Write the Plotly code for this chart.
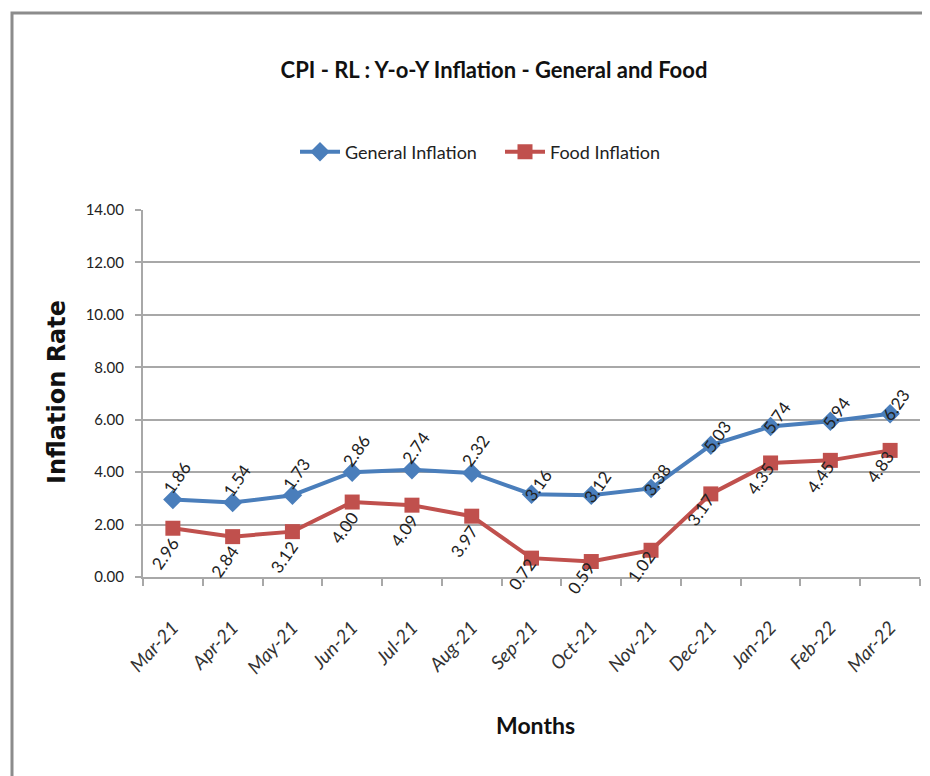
import plotly.graph_objects as go

months = ["Mar-21", "Apr-21", "May-21", "Jun-21", "Jul-21", "Aug-21", "Sep-21",
          "Oct-21", "Nov-21", "Dec-21", "Jan-22", "Feb-22", "Mar-22"]
general = [2.96, 2.84, 3.12, 4.00, 4.09, 3.97, 3.16, 3.12, 3.38, 5.03, 5.74, 5.94, 6.23]
food = [1.86, 1.54, 1.73, 2.86, 2.74, 2.32, 0.72, 0.59, 1.02, 3.17, 4.35, 4.45, 4.83]
# data labels exactly as printed in the source chart (first six are swapped there)
general_labels = ["1.86", "1.54", "1.73", "2.86", "2.74", "2.32", "3.16", "3.12", "3.38",
                  "5.03", "5.74", "5.94", "6.23"]
food_labels = ["2.96", "2.84", "3.12", "4.00", "4.09", "3.97", "0.72", "0.59", "1.02",
               "3.17", "4.35", "4.45", "4.83"]
y_ticks = [0, 2, 4, 6, 8, 10, 12, 14]

NARROW = "Lato, Roboto, sans-serif"
BLUE = "#4A7EBB"
RED = "#C0504D"
GRID = "#A8A8A8"

# page body has an 8px margin, so the figure is laid out 8px smaller
W, H = 922, 768
L, R, T, B = 135, 10, 202, 199
pw, ph = W - L - R, H - T - B


def px(x):
    return (x - 8 - L) / pw


def py(y):
    return (H - B - (y - 8)) / ph


fig = go.Figure()
fig.add_trace(go.Scatter(x=months, y=general, mode="lines+markers", name="General Inflation",
                         line=dict(color=BLUE, width=4),
                         marker=dict(symbol="diamond", size=15, color=BLUE)))
fig.add_trace(go.Scatter(x=months, y=food, mode="lines+markers", name="Food Inflation",
                         line=dict(color=RED, width=4),
                         marker=dict(symbol="square", size=15, color=RED)))

annotations = []
for i, m in enumerate(months):
    far = i < 6
    annotations.append(dict(x=m, y=general[i], text=general_labels[i], showarrow=False,
                            textangle=-55, xshift=4 if far else 6, yshift=22 if far else 9,
                            font=dict(family=NARROW, size=17, color="#222")))
    annotations.append(dict(x=m, y=food[i], text=food_labels[i], showarrow=False,
                            textangle=-55, xshift=-8 if far else -10, yshift=-25 if far else -16,
                            font=dict(family=NARROW, size=17, color="#222")))

annotations.append(dict(xref="paper", yref="paper", x=px(535), y=py(725), showarrow=False,
                        text="<b>Months</b>", xanchor="center", yanchor="middle",
                        font=dict(family=NARROW, size=23, color="#111")))
annotations.append(dict(xref="paper", yref="paper", x=px(57), y=py(392), showarrow=False,
                        text="<b>Inflation Rate</b>", textangle=-90, xanchor="center", yanchor="middle",
                        font=dict(family="DejaVu Sans, sans-serif", size=24, color="#111")))

fig.update_layout(
    width=W, height=H,
    margin=dict(l=L, r=R, t=T, b=B),
    paper_bgcolor="white", plot_bgcolor="white",
    title=dict(text="<b>CPI - RL : Y-o-Y Inflation - General and Food</b>",
               x=px(494), xref="paper", xanchor="center",
               y=1 - 62 / H, yref="container", yanchor="middle",
               font=dict(family=NARROW, size=22, color="#111")),
    legend=dict(orientation="h", x=px(500), xanchor="center", y=py(152), yanchor="middle",
                font=dict(family=NARROW, size=18, color="#222"), itemwidth=40,
                entrywidth=150, bgcolor="rgba(0,0,0,0)"),
    showlegend=True,
    annotations=annotations,
    shapes=[dict(type="rect", xref="paper", yref="paper",
                 x0=px(12), x1=1.3, y0=-0.7, y1=py(13),
                 line=dict(color="#8C8C8C", width=3), fillcolor="rgba(0,0,0,0)", layer="below")],
)

fig.update_xaxes(type="category", range=[-0.5, len(months) - 0.5], tickangle=-47,
                 tickson="boundaries",
                 ticks="outside", ticklen=7, tickcolor=GRID, tickwidth=2, ticklabelstandoff=30,
                 showline=True, linecolor=GRID, linewidth=2, showgrid=False,
                 tickfont=dict(family=NARROW, size=19, color="#333", style="italic"))
fig.update_yaxes(range=[0, 14], tickvals=y_ticks, tickformat=".2f",
                 ticks="outside", ticklen=6, tickcolor=GRID, tickwidth=2, ticklabelstandoff=8,
                 showline=True, linecolor=GRID, linewidth=2,
                 showgrid=True, gridcolor=GRID, gridwidth=2, zeroline=False,
                 tickfont=dict(family=NARROW, size=15, color="#222"))

fig.write_html("out.html")
